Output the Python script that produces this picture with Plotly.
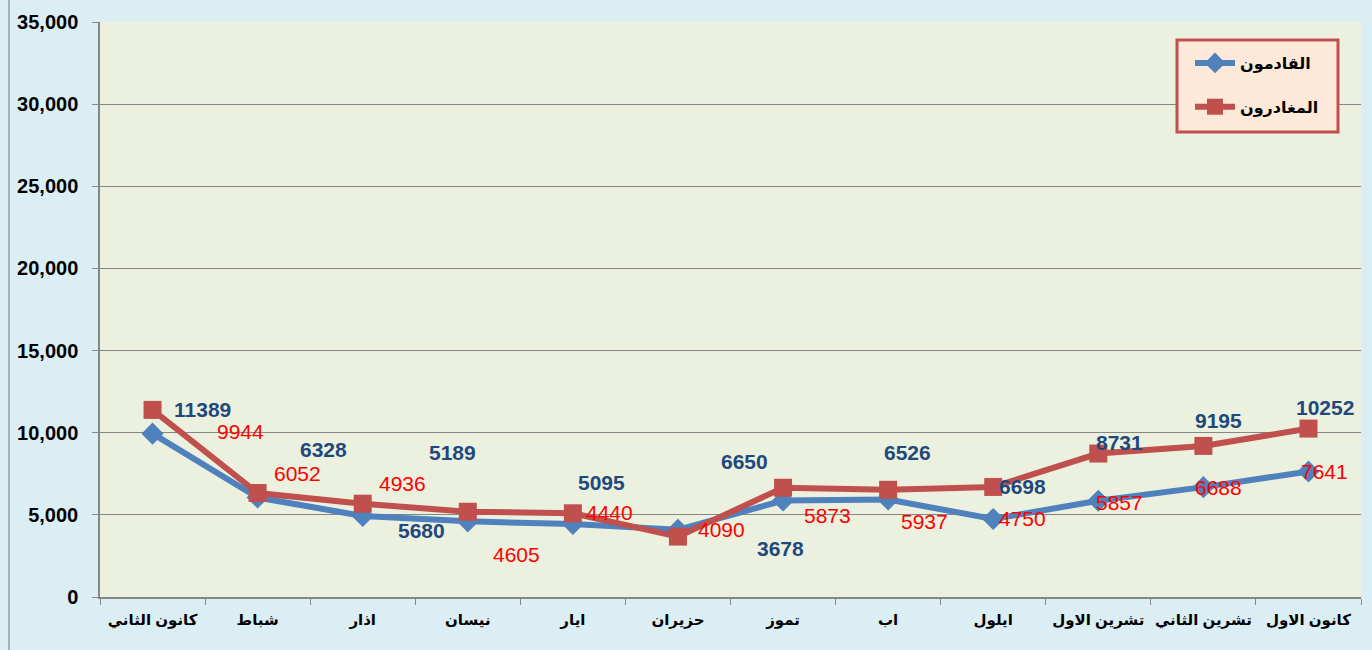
import plotly.graph_objects as go

months = ["كانون الثاني", "شباط", "اذار", "نيسان", "ايار", "حزيران",
          "تموز", "اب", "ايلول", "تشرين الاول", "تشرين الثاني", "كانون الاول"]
arrivals = [9944, 6052, 4936, 4605, 4440, 4090, 5873, 5937, 4750, 5857, 6688, 7641]
departures = [11389, 6328, 5680, 5189, 5095, 3678, 6650, 6526, 6698, 8731, 9195, 10252]
y_ticks = [0, 5000, 10000, 15000, 20000, 25000, 30000, 35000]
y_tick_text = ["0", "5,000", "10,000", "15,000", "20,000", "25,000", "30,000", "35,000"]

# label offsets in pixels (dx, dy downwards)
dep_off = [(50, 0), (66, -44), (59, 27), (-15, -59), (29, -31), (103, 12),
           (-39, -26), (19, -37), (29, 0), (21, -11), (15, -25), (17, -21)]
arr_off = [(88, -2), (40, -24), (40, -32), (49, 33), (37, -12), (44, 0),
           (44, 15), (36, 22), (29, 0), (21, 2), (15, 0), (16, 0)]

BLUE = "#4F81BD"
RED = "#C0504D"
FONT = "Arial, DejaVu Sans, sans-serif"
L, R, T, B = 100, 11, 22, 53
PW, PH = 1372 - L - R, 650 - T - B

def px_x(x):
    return (x - L) / PW

def px_y(y):
    return (650 - B - y) / PH

fig = go.Figure()
fig.add_trace(go.Scatter(
    x=months, y=arrivals, name="القادمون", mode="lines+markers",
    line=dict(color=BLUE, width=6),
    marker=dict(symbol="diamond", size=17, color=BLUE),
    legendgroup="a"))
fig.add_trace(go.Scatter(
    x=months, y=departures, name="المغادرون", mode="lines+markers",
    line=dict(color=RED, width=6),
    marker=dict(symbol="square", size=18, color=RED),
    legendgroup="b"))

for m, v, (dx, dy) in zip(months, departures, dep_off):
    fig.add_annotation(x=m, y=v, text=f"<b>{v}</b>", showarrow=False,
                       xshift=dx, yshift=-dy,
                       font=dict(family=FONT, size=21, color="#1F497D"))
for m, v, (dx, dy) in zip(months, arrivals, arr_off):
    fig.add_annotation(x=m, y=v, text=f"{v}", showarrow=False,
                       xshift=dx, yshift=-dy,
                       font=dict(family=FONT, size=21, color="#FF0000"))

# outer chart border (left edge visible)
fig.add_shape(type="line", xref="paper", yref="paper",
              x0=px_x(9), x1=px_x(9), y0=-0.2, y1=1.1,
              line=dict(color="#9A9A9A", width=1.5))
# legend box
fig.add_shape(type="rect", xref="paper", yref="paper", layer="above",
              x0=px_x(1177), x1=px_x(1338), y0=px_y(132), y1=px_y(40),
              fillcolor="#FDE9D9", line=dict(color=RED, width=3))

fig.update_layout(
    width=1372, height=650,
    margin=dict(l=L, r=R, t=T, b=B, autoexpand=False),
    paper_bgcolor="#DBEEF4",
    plot_bgcolor="#EBF1DE",
    font=dict(family=FONT, color="black"),
    showlegend=True,
    legend=dict(
        x=px_x(1190), y=px_y(46), xanchor="left", yanchor="top",
        bgcolor="rgba(0,0,0,0)", borderwidth=0,
        font=dict(family=FONT, size=16, color="black", weight="bold"),
        traceorder="grouped", tracegroupgap=20,
        itemwidth=40,
    ),
    xaxis=dict(
        type="category", tickson="boundaries", ticks="outside", ticklen=6,
        tickcolor="#868686", showline=True, linecolor="#868686", linewidth=1.5,
        showgrid=False, tickangle=0, automargin=False, ticklabelstandoff=8,
        tickfont=dict(family=FONT, size=15, color="black", weight="bold"),
        range=[-0.5, 11.5],
    ),
    yaxis=dict(
        range=[0, 35000], tickvals=y_ticks, ticktext=y_tick_text,
        ticks="outside", ticklen=6, tickcolor="#868686", automargin=False,
        ticklabelstandoff=10,
        showline=True, linecolor="#868686", linewidth=1.5,
        showgrid=True, gridcolor="#868686", gridwidth=1, zeroline=False,
        tickfont=dict(family=FONT, size=20, color="black", weight="bold"),
    ),
)

fig.write_html("out.html", config={"displayModeBar": False}, post_script=(
    "document.body.style.margin='0';"
    "document.body.style.background='#DBEEF4';"
    "document.body.style.overflow='hidden';"))
